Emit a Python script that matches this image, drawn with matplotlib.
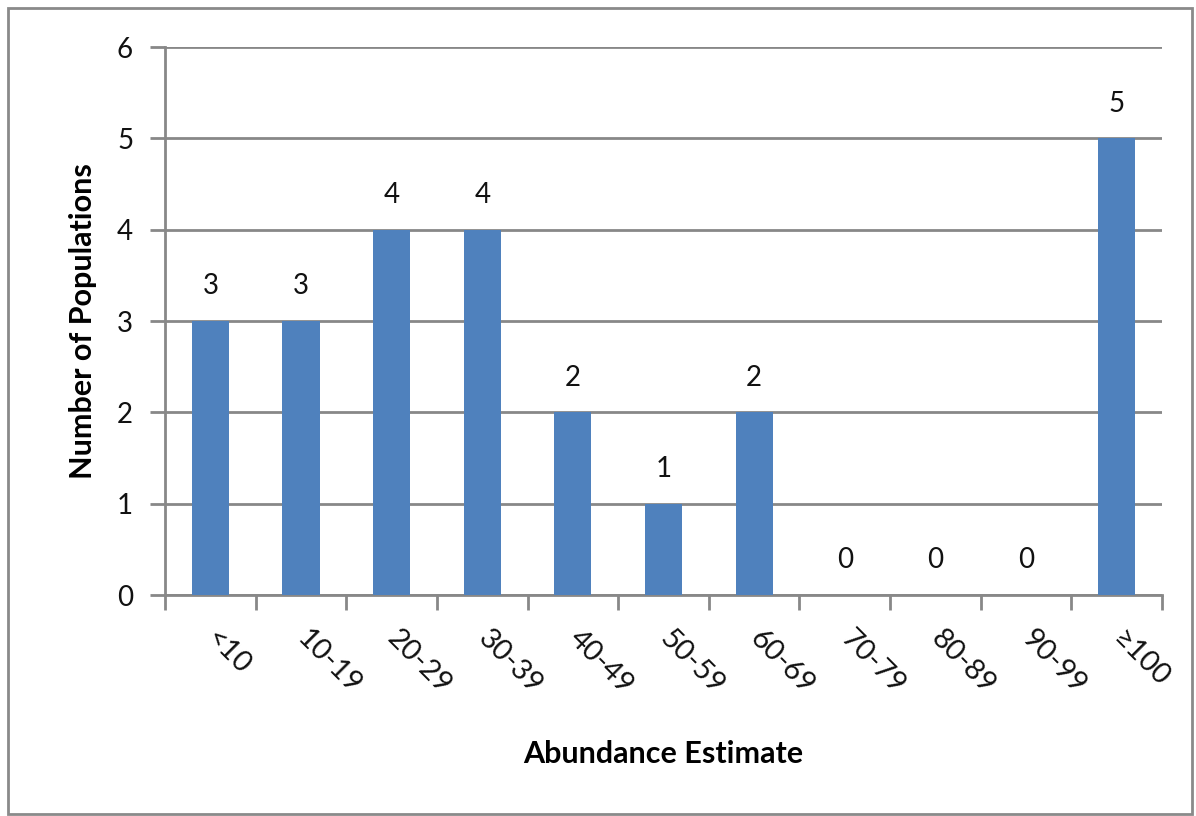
import matplotlib.pyplot as plt
from matplotlib.patches import Rectangle
import numpy as np

categories = ["<10", "10-19", "20-29", "30-39", "40-49", "50-59",
              "60-69", "70-79", "80-89", "90-99", "\u2265100"]
populations = [3, 3, 4, 4, 2, 1, 2, 0, 0, 0, 5]

plt.rcParams["font.family"] = ["Lato", "DejaVu Sans"]

fig = plt.figure(figsize=(11.96, 8.16), dpi=100)
ax = fig.add_axes([0.138, 0.2708, 0.8336, 0.6716])

grid_c = "#888888"
bar_c = "#4F81BD"
text_c = "#111111"

x = np.arange(len(categories))
ax.bar(x, populations, width=0.41, color=bar_c, zorder=3)

for xi, v in zip(x, populations):
    ax.annotate(str(v), (xi, v), xytext=(0, 25), textcoords="offset points",
                ha="center", va="center", fontsize=20, color=text_c)

ax.set_xlim(-0.5, len(categories) - 0.5)
ax.set_ylim(0, 6)
ax.set_yticks(range(7))
ax.yaxis.grid(True, color=grid_c, linewidth=2, zorder=0)
ax.tick_params(axis="y", length=11, width=2, color=grid_c, labelsize=20,
               pad=12, labelcolor=text_c)

# category boundaries carry the tick marks, labels sit at the centres
ax.set_xticks(np.arange(len(categories) + 1) - 0.5)
ax.set_xticklabels([])
ax.tick_params(axis="x", length=11, width=2, color=grid_c, direction="out")
ax.set_xticks(x, minor=True)
ax.set_xticklabels(categories, minor=True)
ax.tick_params(axis="x", which="minor", length=0, labelsize=21, pad=28,
               labelcolor=text_c)
for lab in ax.get_xticklabels(minor=True):
    lab.set_rotation(-45)
    lab.set_rotation_mode("anchor")
    lab.set_ha("left")
    lab.set_va("center")

for side in ("top", "right"):
    ax.spines[side].set_visible(False)
for side in ("left", "bottom"):
    ax.spines[side].set_color(grid_c)
    ax.spines[side].set_linewidth(2)

ax.set_xlabel("Abundance Estimate", fontsize=22, fontweight="bold")
ax.set_ylabel("Number of Populations", fontsize=22, fontweight="bold")
ax.xaxis.set_label_coords(0.5, -0.265)
ax.yaxis.set_label_coords(-0.068, 0.5)

# outer chart frame
fig.patches.append(Rectangle((0.007, 0.002), 0.99, 0.988,
                             transform=fig.transFigure, fill=False,
                             edgecolor="#8a8a8a", linewidth=2))

fig.savefig("out.png", dpi=100)
